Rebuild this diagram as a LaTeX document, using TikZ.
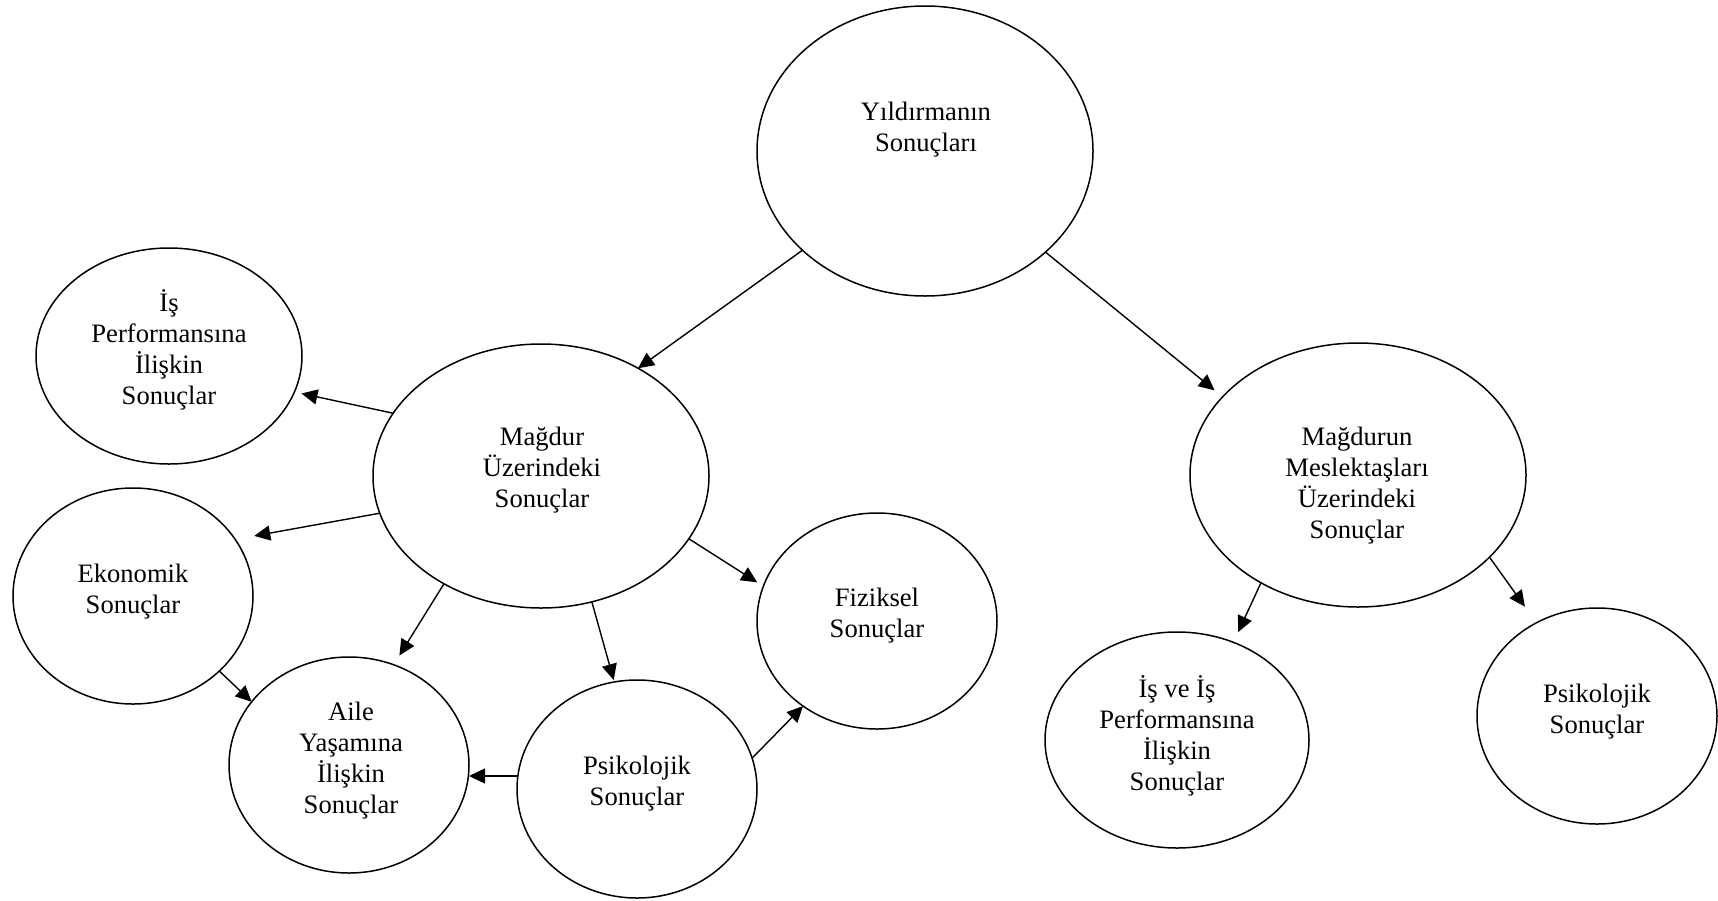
\documentclass[tikz,border=0pt]{standalone}
\usepackage{fontspec}
\setmainfont{Liberation Serif}
\usetikzlibrary{arrows.meta,shapes.geometric}
% centred multi-line text whose baseline is that of its first line
\newcommand{\stacktxt}[1]{\begin{tabular}[t]{@{}c@{}}#1\end{tabular}}

\begin{document}
\begin{tikzpicture}[x=0.5pt,y=-0.5pt,
  bubble/.style={ellipse,draw,line width=0.75pt,inner sep=0pt,outer sep=0pt},
  caption/.style={anchor=base,inner sep=0pt,font=\fontsize{13.3}{15.5}\selectfont},
  link/.style={line width=0.7pt,-{Triangle[length=8pt,width=7.5pt]}}]
\useasboundingbox (0,0) rectangle (1718,900);

% ellipses
\node[bubble,minimum width=168pt,minimum height=145pt] (top)    at (925,151)  {};
\node[bubble,minimum width=133pt,minimum height=108pt] (perf)   at (169,356)  {};
\node[bubble,minimum width=168pt,minimum height=132pt] (victim) at (541,476)  {};
\node[bubble,minimum width=120pt,minimum height=108pt] (econ)   at (133,596)  {};
\node[bubble,minimum width=120pt,minimum height=108pt] (family) at (349,765)  {};
\node[bubble,minimum width=120pt,minimum height=109pt] (psyA)   at (637,789)  {};
\node[bubble,minimum width=120pt,minimum height=108pt] (phys)   at (877,621)  {};
\node[bubble,minimum width=168pt,minimum height=132pt] (peers)  at (1358,475) {};
\node[bubble,minimum width=132pt,minimum height=108pt] (work)   at (1177,740) {};
\node[bubble,minimum width=120pt,minimum height=108pt] (psyB)   at (1597,716) {};

% texts
\node[caption] (top-t)    at (926,120)  {\stacktxt{Yıldırmanın\\Sonuçları}};
\node[caption] (perf-t)   at (169,311)  {\stacktxt{İş\\Performansına\\İlişkin\\Sonuçlar}};
\node[caption] (victim-t) at (542,445)  {\stacktxt{Mağdur\\Üzerindeki\\Sonuçlar}};
\node[caption] (econ-t)   at (133,582)  {\stacktxt{Ekonomik\\Sonuçlar}};
\node[caption] (family-t) at (351,720)  {\stacktxt{Aile\\Yaşamına\\İlişkin\\Sonuçlar}};
\node[caption] (psyA-t)   at (637,774)  {\stacktxt{Psikolojik\\Sonuçlar}};
\node[caption] (phys-t)   at (877,606)  {\stacktxt{Fiziksel\\Sonuçlar}};
\node[caption] (peers-t)  at (1357,445) {\stacktxt{Mağdurun\\Meslektaşları\\Üzerindeki\\Sonuçlar}};
\node[caption] (work-t)   at (1177,697) {\stacktxt{İş ve İş\\Performansına\\İlişkin\\Sonuçlar}};
\node[caption] (psyB-t)   at (1597,702) {\stacktxt{Psikolojik\\Sonuçlar}};

% connectors
\draw[link] (top.219.4) -- (victim.48);
\draw[link,shorten >=5.15pt] (top.320.6) -- (peers.150.9);
\draw[link,shorten >=3.6pt] (victim.157.4) -- (perf.344.8);
\draw[link,shorten >=9.7pt] (victim.193.9) -- (econ.29.2);
\draw[link,shorten >=5.45pt] (victim.228) -- (family.66.8);
\draw[link,shorten >=1pt] (victim.292.4) -- (psyA.102.4);
\draw[link,shorten >=3.65pt] (victim.337.1) -- (phys.163.4);
\draw[link] (econ.319.6) -- (family.147.4);
\draw[link] (psyA.west |- 0,776) -- (family.east |- 0,776);
\draw[link] (psyA.15.6) -- (phys.229.7);
\draw[link,shorten >=5.65pt] (peers.228.8) -- (work.60.3);
\draw[link,shorten >=9.9pt] (peers.328.3) -- (psyB.123.9);
\end{tikzpicture}
\end{document}
